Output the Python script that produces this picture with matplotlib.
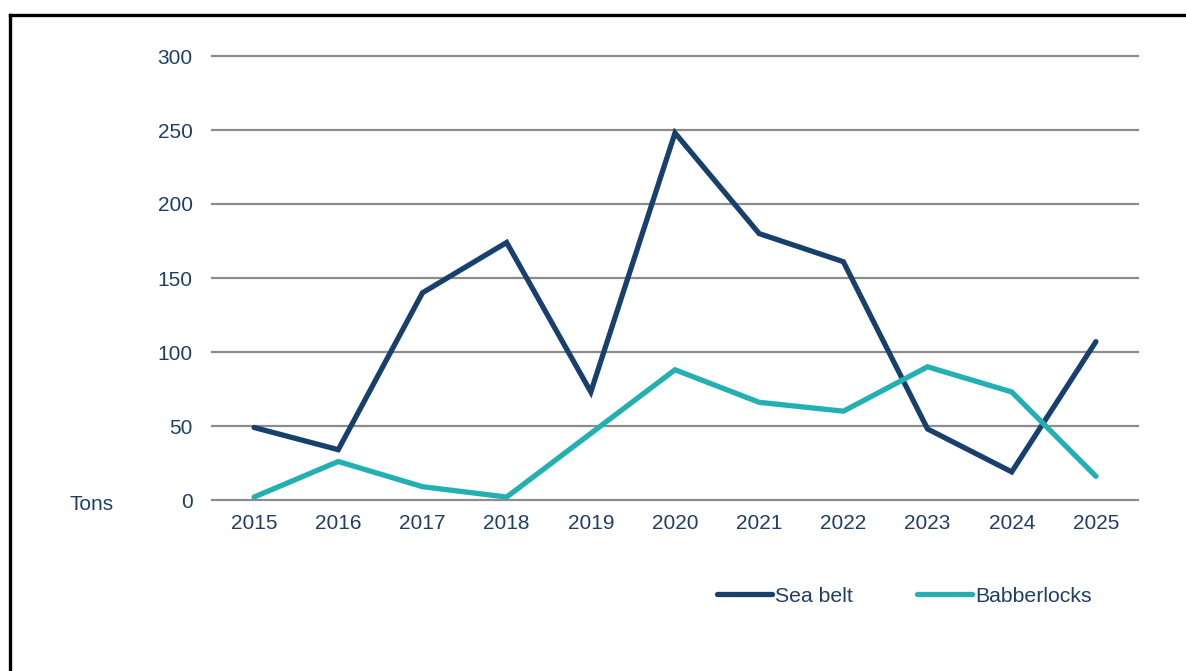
import matplotlib
matplotlib.use("Agg")
import matplotlib.pyplot as plt
from matplotlib.lines import Line2D

years = ["2015", "2016", "2017", "2018", "2019", "2020", "2021", "2022", "2023", "2024", "2025"]
sea_belt = [49, 34, 140, 174, 73, 248, 180, 161, 48, 19, 107]
babberlocks = [2, 26, 9, 2, 45, 88, 66, 60, 90, 73, 16]
yticks = [0, 50, 100, 150, 200, 250, 300]

NAVY = "#17406D"
TEAL = "#22B0B3"
TEXT = "#1F3F66"
GRID = "#8C8C8C"

plt.rcParams["font.family"] = ["Liberation Sans", "DejaVu Sans"]

W, H = 1186, 671
fig = plt.figure(figsize=(W / 100, H / 100), dpi=100)
ax = fig.add_axes([212 / W, 1 - 500 / H, (1138 - 212) / W, (500 - 56) / H])

x = list(range(len(years)))
ax.plot(x, sea_belt, color=NAVY, lw=3.8, solid_capstyle="round", solid_joinstyle="miter", label="Sea belt", zorder=3)
ax.plot(x, babberlocks, color=TEAL, lw=3.8, solid_capstyle="round", solid_joinstyle="miter", label="Babberlocks", zorder=3)

ax.set_xlim(-0.5, len(years) - 0.5)
ax.set_ylim(0, 300)
ax.set_yticks(yticks)
ax.set_xticks(x)
ax.set_xticklabels(years)
for s in ax.spines.values():
    s.set_visible(False)
ax.yaxis.grid(True, color=GRID, lw=1.6, zorder=1)
for gl in ax.get_ygridlines():
    gl.set_clip_on(False)
ax.set_axisbelow(True)
ax.tick_params(axis="both", length=0, labelsize=15, labelcolor=TEXT)
ax.tick_params(axis="y", pad=14)
ax.tick_params(axis="x", pad=10)

fig.text(70 / W, 1 - 505 / H, "Tons", fontsize=15, color=TEXT, ha="left", va="center")

leg = fig.legend(loc="center left", bbox_to_anchor=(717 / W, 1 - 596 / H), ncol=2, frameon=False,
                 fontsize=15.3, labelcolor=TEXT, handlelength=2.6, handletextpad=0.15, columnspacing=3.0,
                 borderpad=0, borderaxespad=0)

# outer frame (top and left edges visible)
fig.add_artist(Line2D([9.5 / W, 1.0], [1 - 14.5 / H, 1 - 14.5 / H], transform=fig.transFigure, color="black", lw=2.4))
fig.add_artist(Line2D([9.5 / W, 9.5 / W], [0, 1 - 14.5 / H], transform=fig.transFigure, color="black", lw=2.4))

fig.savefig("out.png", dpi=100)
